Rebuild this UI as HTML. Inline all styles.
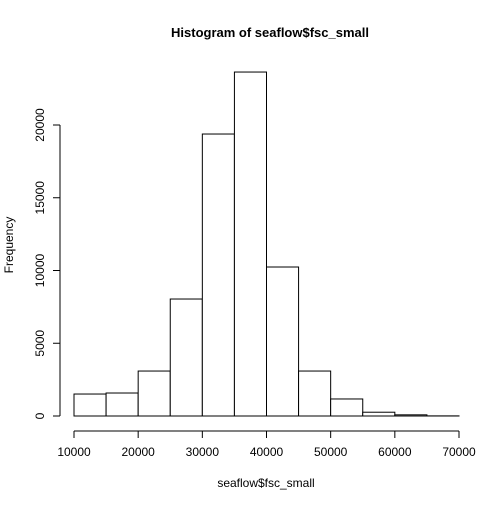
<!DOCTYPE html>
<html><head><meta charset="utf-8"><style>
body{margin:0;background:#fff}
svg text{font-family:"Liberation Sans",Arial,sans-serif;fill:#000}
</style></head><body>
<svg id="c" width="504" height="504" xmlns="http://www.w3.org/2000/svg">
<text x="270" y="37" text-anchor="middle" font-size="13" font-weight="bold">Histogram of seaflow$fsc_small</text>
<text x="266" y="487" text-anchor="middle" font-size="12">seaflow$fsc_small</text>
<text transform="translate(13,245) rotate(-90)" text-anchor="middle" font-size="12">Frequency</text>
<g id="bars"></g><g id="xax"></g><g id="yax"></g>
</svg>
<script>
const binStarts=[10000,15000,20000,25000,30000,35000,40000,45000,50000,55000,60000,65000];
const counts=[1510,1580,3090,8040,19380,23640,10240,3090,1170,260,80,8];
const xTicks=[10000,20000,30000,40000,50000,60000,70000];
const yTicks=[0,5000,10000,15000,20000];
const binWidth=5000;
const X=v=>74+(v-10000)*(385/60000);
const Y=v=>416-v*(291/20000);
const ns="http://www.w3.org/2000/svg";
function mk(t,a,p){const e=document.createElementNS(ns,t);for(const k in a)e.setAttribute(k,a[k]);p.appendChild(e);return e;}
const bars=document.getElementById('bars');
binStarts.forEach((b,i)=>{
 const r=mk('rect',{x:X(b),y:Y(counts[i]),width:X(b+binWidth)-X(b),height:Y(0)-Y(counts[i]),fill:'#fff',stroke:'#000','stroke-width':1},bars);
 
 
});
const xa=document.getElementById('xax');
mk('line',{x1:X(xTicks[0]),x2:X(xTicks[xTicks.length-1]),y1:431,y2:431,stroke:'#000'},xa);
xTicks.forEach(t=>{
 mk('line',{x1:X(t),x2:X(t),y1:431,y2:438,stroke:'#000'},xa);
 const tx=mk('text',{x:X(t),y:456,'text-anchor':'middle','font-size':12},xa);tx.textContent=t;
 
 
});
const ya=document.getElementById('yax');
mk('line',{x1:60,x2:60,y1:Y(yTicks[0]),y2:Y(yTicks[yTicks.length-1]),stroke:'#000'},ya);
yTicks.forEach(t=>{
 mk('line',{x1:53,x2:60,y1:Y(t),y2:Y(t),stroke:'#000'},ya);
 const tx=mk('text',{transform:`translate(44,${Y(t)}) rotate(-90)`,'text-anchor':'middle','font-size':12},ya);tx.textContent=t;
 
 
});
</script>
</body></html>
